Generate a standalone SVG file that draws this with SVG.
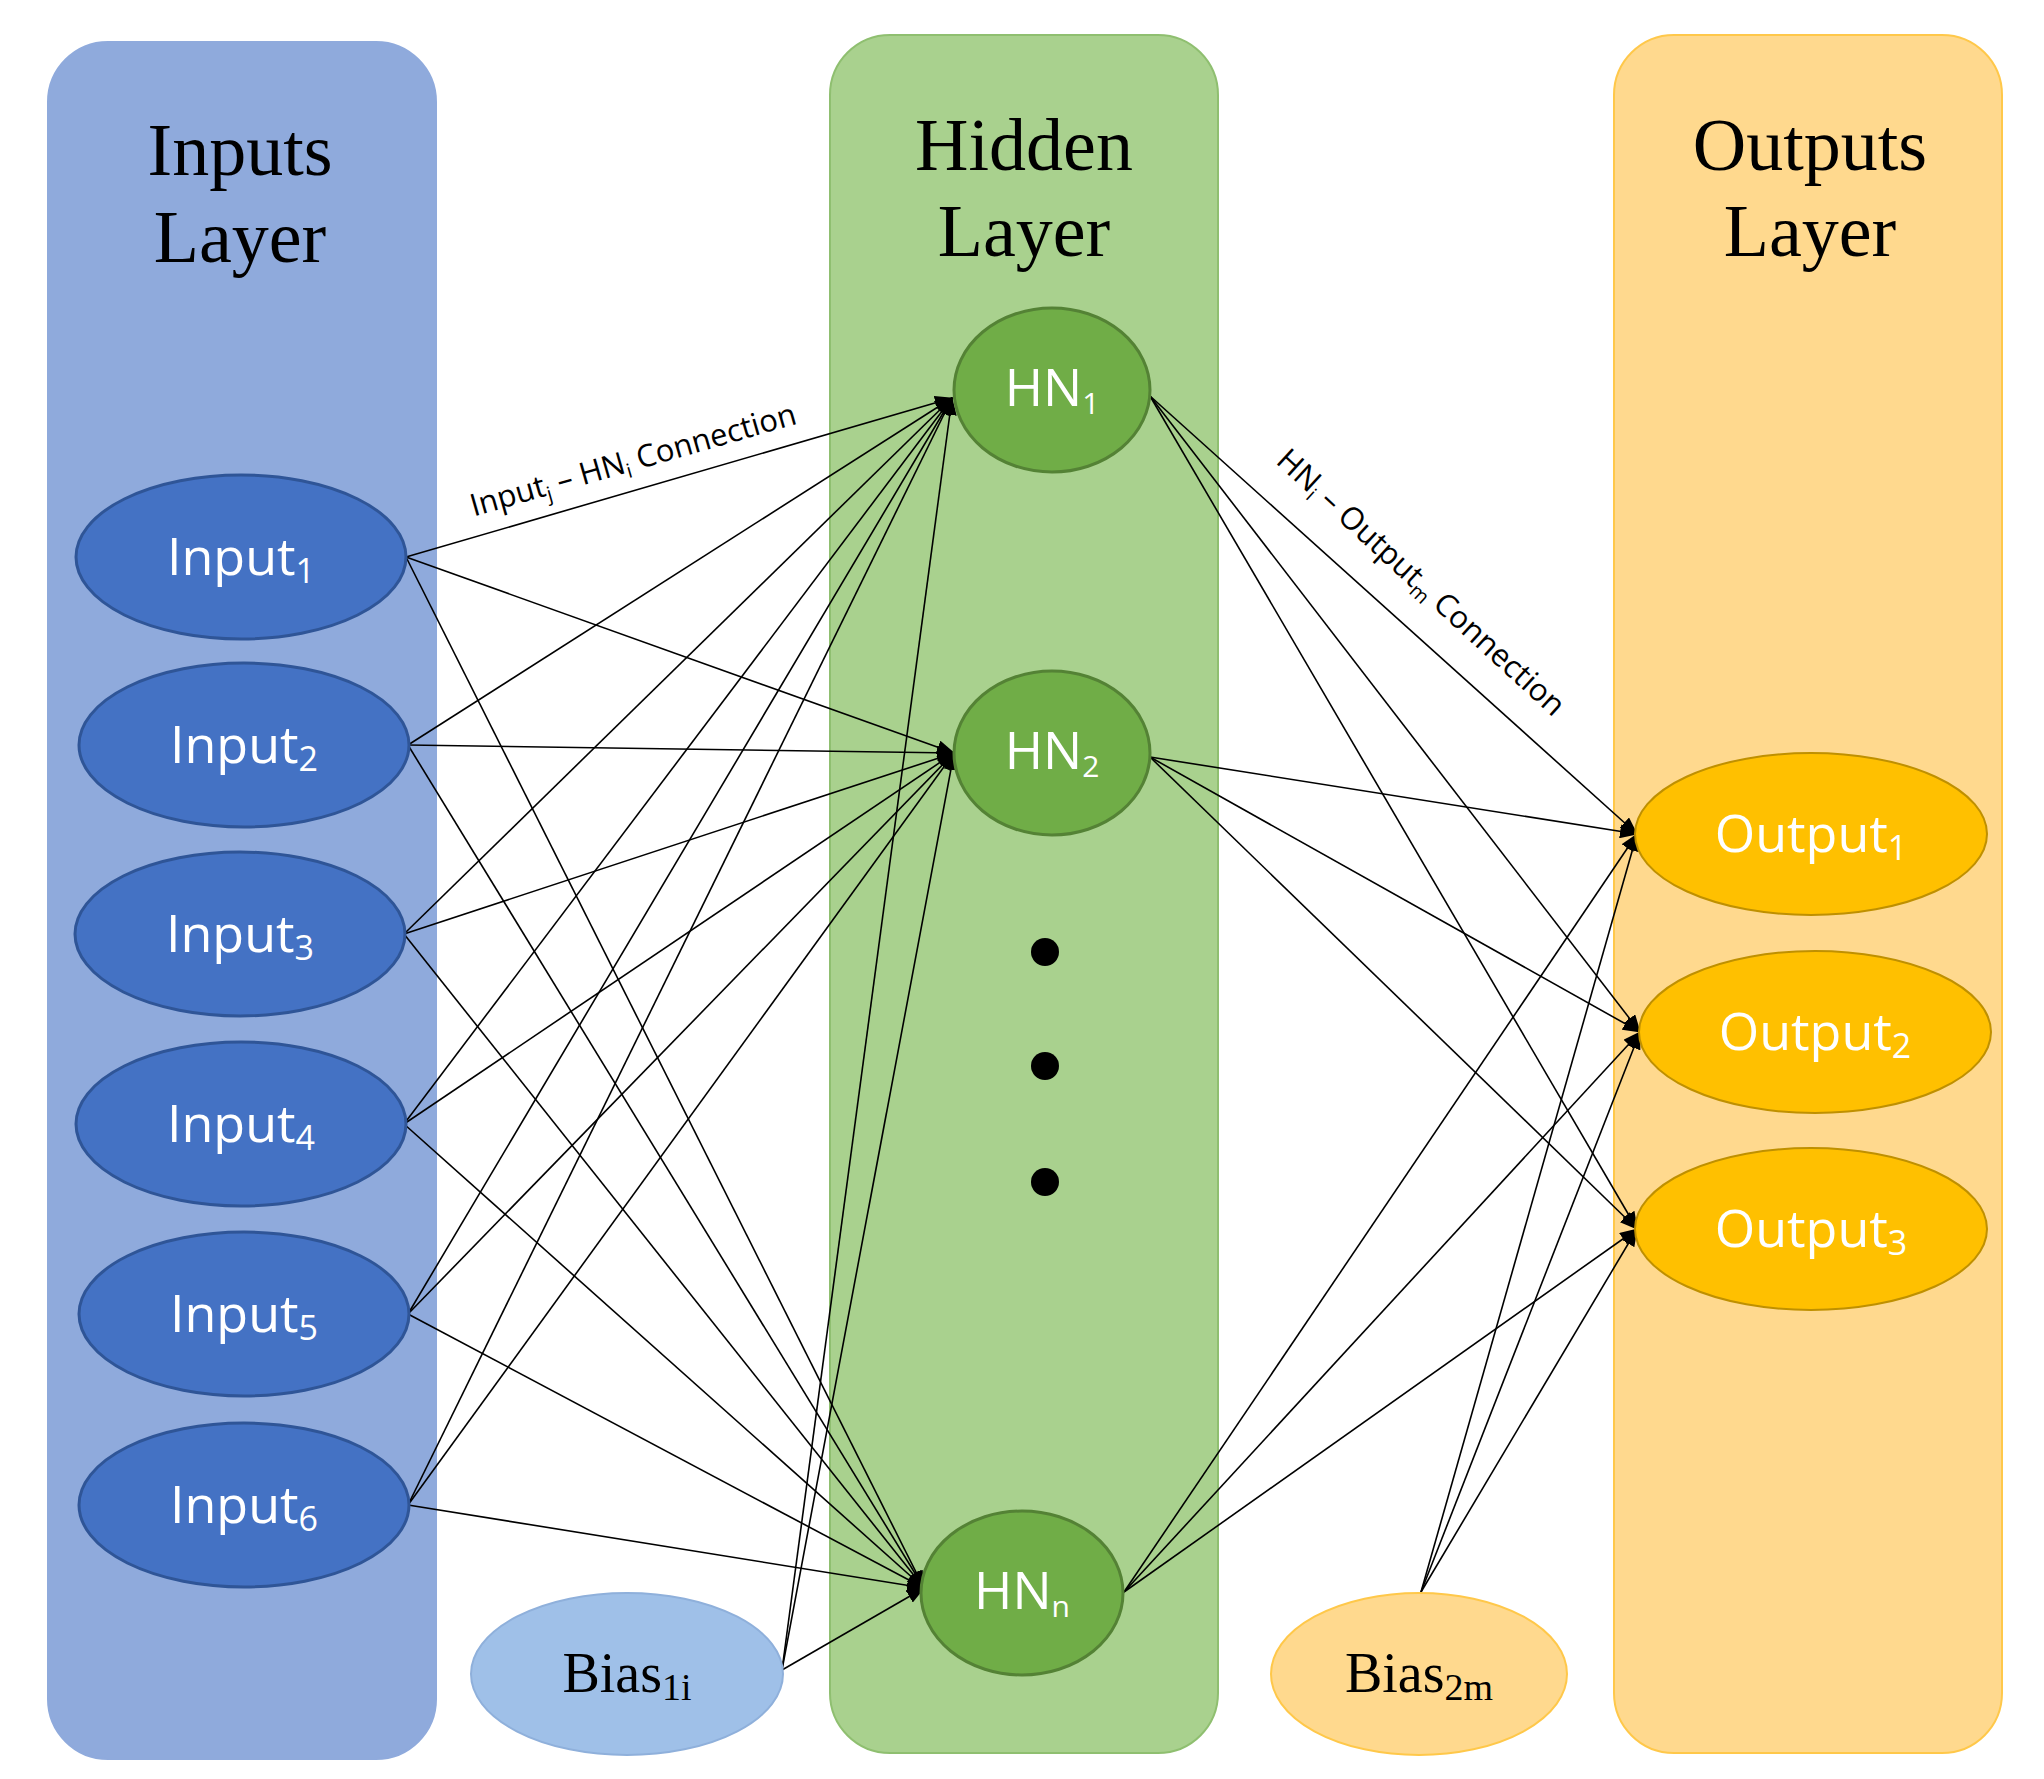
<svg xmlns="http://www.w3.org/2000/svg" width="2044" height="1779" viewBox="0 0 2044 1779">
<style>
.title{font-family:"Liberation Serif",serif;font-size:74px;fill:#000;text-anchor:middle}
.nl{font-family:"Open Sans","Liberation Sans",sans-serif;font-size:52px;fill:#fff;text-anchor:middle}
.bl{font-family:"Liberation Serif",serif;font-size:56px;fill:#000;text-anchor:middle}
.cl{font-family:"Open Sans","Liberation Sans",sans-serif;font-size:31px;fill:#000;text-anchor:middle}
.ln{stroke:#000;stroke-width:1.6;fill:none;marker-end:url(#ah)}
.inp{fill:#4472c4;stroke:#2f5597;stroke-width:3}
.hn{fill:#70ad47;stroke:#548235;stroke-width:3}
.out{fill:#ffc000;stroke:#bf9000;stroke-width:2}
</style>
<defs>
<marker id="ah" markerWidth="18" markerHeight="14" refX="17" refY="7" orient="auto" markerUnits="userSpaceOnUse" viewBox="0 0 18 14">
<path d="M0,0 L18,7 L0,14 z" fill="#000"/>
</marker>
</defs>
<rect width="2044" height="1779" fill="#fff"/>
<g id="panel-inputs"><rect x="48" y="42" width="388" height="1717" rx="60" fill="#8faadc" stroke="#8faadc" stroke-width="2"/>
<text class="title" x="240" y="175">Inputs</text><text class="title" x="240" y="262">Layer</text></g>
<g id="panel-hidden"><rect x="830" y="35" width="388" height="1718" rx="60" fill="#a9d18e" stroke="#8fbf70" stroke-width="2"/>
<text class="title" x="1024" y="170">Hidden</text><text class="title" x="1024" y="256">Layer</text></g>
<g id="panel-outputs"><rect x="1614" y="35" width="388" height="1718" rx="60" fill="#ffd98e" stroke="#ffc84a" stroke-width="2"/>
<text class="title" x="1810" y="170">Outputs</text><text class="title" x="1810" y="256">Layer</text></g>

<g id="connectors">
<line class="ln" x1="406" y1="557" x2="952" y2="398"/>
<line class="ln" x1="406" y1="557" x2="954" y2="753"/>
<line class="ln" x1="406" y1="557" x2="924" y2="1588"/>
<line class="ln" x1="408" y1="745" x2="952" y2="398"/>
<line class="ln" x1="408" y1="745" x2="954" y2="753"/>
<line class="ln" x1="408" y1="745" x2="924" y2="1588"/>
<line class="ln" x1="404" y1="934" x2="952" y2="398"/>
<line class="ln" x1="404" y1="934" x2="954" y2="753"/>
<line class="ln" x1="404" y1="934" x2="924" y2="1588"/>
<line class="ln" x1="404" y1="1124" x2="952" y2="398"/>
<line class="ln" x1="404" y1="1124" x2="954" y2="753"/>
<line class="ln" x1="404" y1="1124" x2="924" y2="1588"/>
<line class="ln" x1="408" y1="1314" x2="952" y2="398"/>
<line class="ln" x1="408" y1="1314" x2="954" y2="753"/>
<line class="ln" x1="408" y1="1314" x2="924" y2="1588"/>
<line class="ln" x1="408" y1="1505" x2="952" y2="398"/>
<line class="ln" x1="408" y1="1505" x2="954" y2="753"/>
<line class="ln" x1="408" y1="1505" x2="924" y2="1588"/>
<line class="ln" x1="782" y1="1670" x2="952" y2="398"/>
<line class="ln" x1="782" y1="1670" x2="954" y2="753"/>
<line class="ln" x1="782" y1="1670" x2="924" y2="1588"/>
<line class="ln" x1="1150" y1="396" x2="1637" y2="834"/>
<line class="ln" x1="1150" y1="396" x2="1640" y2="1032"/>
<line class="ln" x1="1150" y1="396" x2="1637" y2="1229"/>
<line class="ln" x1="1150" y1="757" x2="1637" y2="834"/>
<line class="ln" x1="1150" y1="757" x2="1640" y2="1032"/>
<line class="ln" x1="1150" y1="757" x2="1637" y2="1229"/>
<line class="ln" x1="1124" y1="1592" x2="1637" y2="834"/>
<line class="ln" x1="1124" y1="1592" x2="1640" y2="1032"/>
<line class="ln" x1="1124" y1="1592" x2="1637" y2="1229"/>
<line class="ln" x1="1421" y1="1592" x2="1637" y2="834"/>
<line class="ln" x1="1421" y1="1592" x2="1640" y2="1032"/>
<line class="ln" x1="1421" y1="1592" x2="1637" y2="1229"/>
<text class="cl" transform="translate(636,470) rotate(-16)">Input<tspan font-size="20" dy="6">j</tspan><tspan dy="-6"> – HN</tspan><tspan font-size="20" dy="6">i</tspan><tspan dy="-6"> Connection</tspan></text>
<text class="cl" transform="translate(1414,590) rotate(42.5)">HN<tspan font-size="20" dy="6">i</tspan><tspan dy="-6"> – Output</tspan><tspan font-size="20" dy="6">m</tspan><tspan dy="-6"> Connection</tspan></text>
</g>

<g id="input1"><ellipse class="inp" cx="241" cy="557" rx="165" ry="82"/><text class="nl" x="241" y="575">Input<tspan font-size="34" dy="8">1</tspan></text></g>
<g id="input2"><ellipse class="inp" cx="244" cy="745" rx="165" ry="82"/><text class="nl" x="244" y="763">Input<tspan font-size="34" dy="8">2</tspan></text></g>
<g id="input3"><ellipse class="inp" cx="240" cy="934" rx="165" ry="82"/><text class="nl" x="240" y="952">Input<tspan font-size="34" dy="8">3</tspan></text></g>
<g id="input4"><ellipse class="inp" cx="241" cy="1124" rx="165" ry="82"/><text class="nl" x="241" y="1142">Input<tspan font-size="34" dy="8">4</tspan></text></g>
<g id="input5"><ellipse class="inp" cx="244" cy="1314" rx="165" ry="82"/><text class="nl" x="244" y="1332">Input<tspan font-size="34" dy="8">5</tspan></text></g>
<g id="input6"><ellipse class="inp" cx="244" cy="1505" rx="165" ry="82"/><text class="nl" x="244" y="1523">Input<tspan font-size="34" dy="8">6</tspan></text></g>

<g id="hn1"><ellipse class="hn" cx="1052" cy="390" rx="98" ry="82"/><text class="nl" x="1052" y="406" font-size="44">HN<tspan font-size="30" dy="8">1</tspan></text></g>
<g id="hn2"><ellipse class="hn" cx="1052" cy="753" rx="98" ry="82"/><text class="nl" x="1052" y="769" font-size="44">HN<tspan font-size="30" dy="8">2</tspan></text></g>
<g id="dots"><circle cx="1045" cy="952" r="14"/><circle cx="1045" cy="1066" r="14"/><circle cx="1045" cy="1182" r="14"/></g>
<g id="hnn"><ellipse class="hn" cx="1022" cy="1593" rx="101" ry="82"/><text class="nl" x="1022" y="1609" font-size="44">HN<tspan font-size="30" dy="8">n</tspan></text></g>

<g id="output1"><ellipse class="out" cx="1811" cy="834" rx="176" ry="81"/><text class="nl" x="1811" y="852">Output<tspan font-size="34" dy="8">1</tspan></text></g>
<g id="output2"><ellipse class="out" cx="1815" cy="1032" rx="176" ry="81"/><text class="nl" x="1815" y="1050">Output<tspan font-size="34" dy="8">2</tspan></text></g>
<g id="output3"><ellipse class="out" cx="1811" cy="1229" rx="176" ry="81"/><text class="nl" x="1811" y="1247">Output<tspan font-size="34" dy="8">3</tspan></text></g>

<g id="bias1"><ellipse cx="627" cy="1674" rx="156" ry="81" fill="#9fc0e8" stroke="#8fb0db" stroke-width="2"/><text class="bl" x="627" y="1692">Bias<tspan font-size="38" dy="8">1i</tspan></text></g>
<g id="bias2"><ellipse cx="1419" cy="1674" rx="148" ry="81" fill="#ffd98e" stroke="#ffc84a" stroke-width="2"/><text class="bl" x="1419" y="1692">Bias<tspan font-size="38" dy="8">2m</tspan></text></g>
</svg>
